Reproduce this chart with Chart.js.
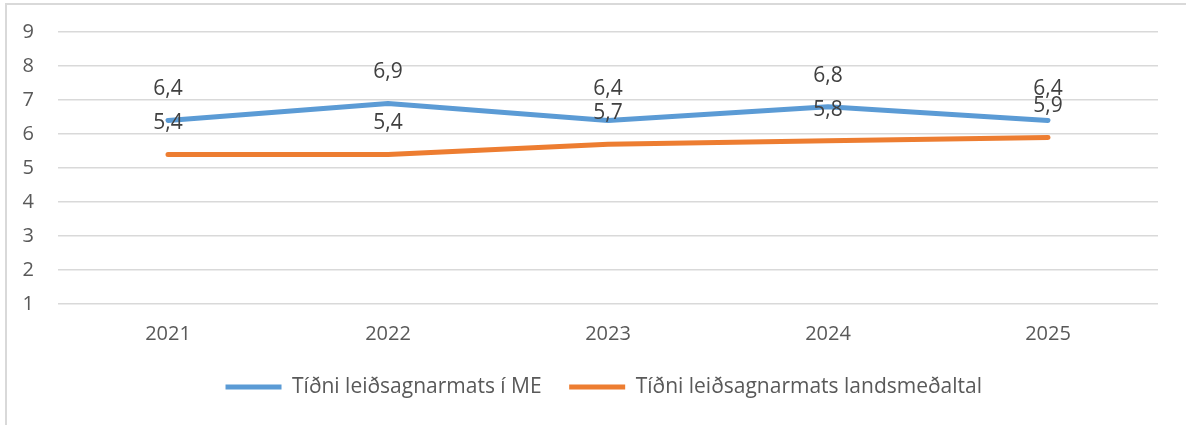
<!DOCTYPE html>
<html>
<head>
<meta charset="utf-8">
<script src="https://cdn.jsdelivr.net/npm/chart.js@4/dist/chart.umd.min.js"></script>
<style>
html,body{margin:0;padding:0;background:#fff;}
#wrap{position:relative;width:1186px;height:425px;}
</style>
</head>
<body>
<div id="wrap"><canvas id="c" width="1186" height="425"></canvas></div>
<script>
const categories = ['2021', '2022', '2023', '2024', '2025'];
const seriesME = [6.4, 6.9, 6.4, 6.8, 6.4];
const seriesNational = [5.4, 5.4, 5.7, 5.8, 5.9];
const seriesNames = ['Tíðni leiðsagnarmats í ME', 'Tíðni leiðsagnarmats landsmeðaltal'];
const yTicks = [1, 2, 3, 4, 5, 6, 7, 8, 9];

const FONT = "'Open Sans', 'Liberation Sans', sans-serif";

const frame = {
  id: 'frame',
  beforeDraw(chart) {
    const ctx = chart.ctx;
    ctx.save();
    ctx.fillStyle = '#fff';
    ctx.fillRect(0, 0, chart.width, chart.height);
    ctx.strokeStyle = '#d9d9d9';
    ctx.lineWidth = 2;
    ctx.beginPath();
    ctx.moveTo(6, chart.height + 5);
    ctx.lineTo(6, 4);
    ctx.lineTo(chart.width + 5, 4);
    ctx.stroke();
    ctx.restore();
  }
};

const valueLabels = {
  id: 'valueLabels',
  afterDatasetsDraw(chart) {
    const ctx = chart.ctx;
    ctx.save();
    ctx.font = "21px " + FONT;
    ctx.fillStyle = '#404040';
    ctx.textAlign = 'center';
    ctx.textBaseline = 'middle';
    chart.data.datasets.forEach((ds, i) => {
      chart.getDatasetMeta(i).data.forEach((pt, j) => {
        const txt = ds.data[j].toFixed(1).replace('.', ',');
        ctx.fillText(txt, pt.x, pt.y - 31);
      });
    });
    ctx.restore();
  }
};

new Chart(document.getElementById('c'), {
  type: 'line',
  data: {
    labels: categories,
    datasets: [
      {
        label: seriesNames[0],
        data: seriesME,
        borderColor: '#5b9bd5',
        backgroundColor: '#5b9bd5',
        borderWidth: 5,
        borderCapStyle: 'round',
        borderJoinStyle: 'round',
        pointRadius: 0,
        tension: 0
      },
      {
        label: seriesNames[1],
        data: seriesNational,
        borderColor: '#ed7d31',
        backgroundColor: '#ed7d31',
        borderWidth: 5,
        borderCapStyle: 'round',
        borderJoinStyle: 'round',
        pointRadius: 0,
        tension: 0
      }
    ]
  },
  options: {
    responsive: false,
    animation: false,
    devicePixelRatio: 1,
    layout: { padding: { top: 32, right: -21.5, bottom: 17.5, left: 0 } },
    plugins: {
      tooltip: { enabled: false },
      legend: {
        position: 'bottom',
        labels: {
          usePointStyle: true,
          pointStyle: 'line',
          pointStyleWidth: 56,
          boxHeight: 5,
          padding: 27.5,
          color: '#595959',
          font: { family: FONT, size: 21 }
        }
      }
    },
    scales: {
      x: {
        offset: true,
        grid: { display: false, drawTicks: false },
        border: { display: false },
        ticks: { color: '#595959', font: { family: FONT, size: 20 }, padding: 18 },
        afterFit(s) { s.height = 45; s.paddingLeft = 0; s.paddingRight = 0; }
      },
      y: {
        min: 1,
        max: 9,
        afterBuildTicks(s) { s.ticks = yTicks.map(v => ({ value: v })); },
        grid: { color: '#d9d9d9', lineWidth: 1.5, drawTicks: false },
        border: { display: false },
        ticks: { color: '#595959', font: { family: FONT, size: 20 }, padding: 24 },
        afterFit(s) { s.width = 58; s.paddingTop = 0; s.paddingBottom = 0; }
      },
      yRight: {
        position: 'right',
        min: 1,
        max: 9,
        grid: { display: false, drawTicks: false },
        border: { display: false },
        ticks: { display: false },
        afterFit(s) { s.width = 49.5; s.paddingTop = 0; s.paddingBottom = 0; }
      }
    }
  },
  plugins: [frame, valueLabels]
});
</script>
</body>
</html>
